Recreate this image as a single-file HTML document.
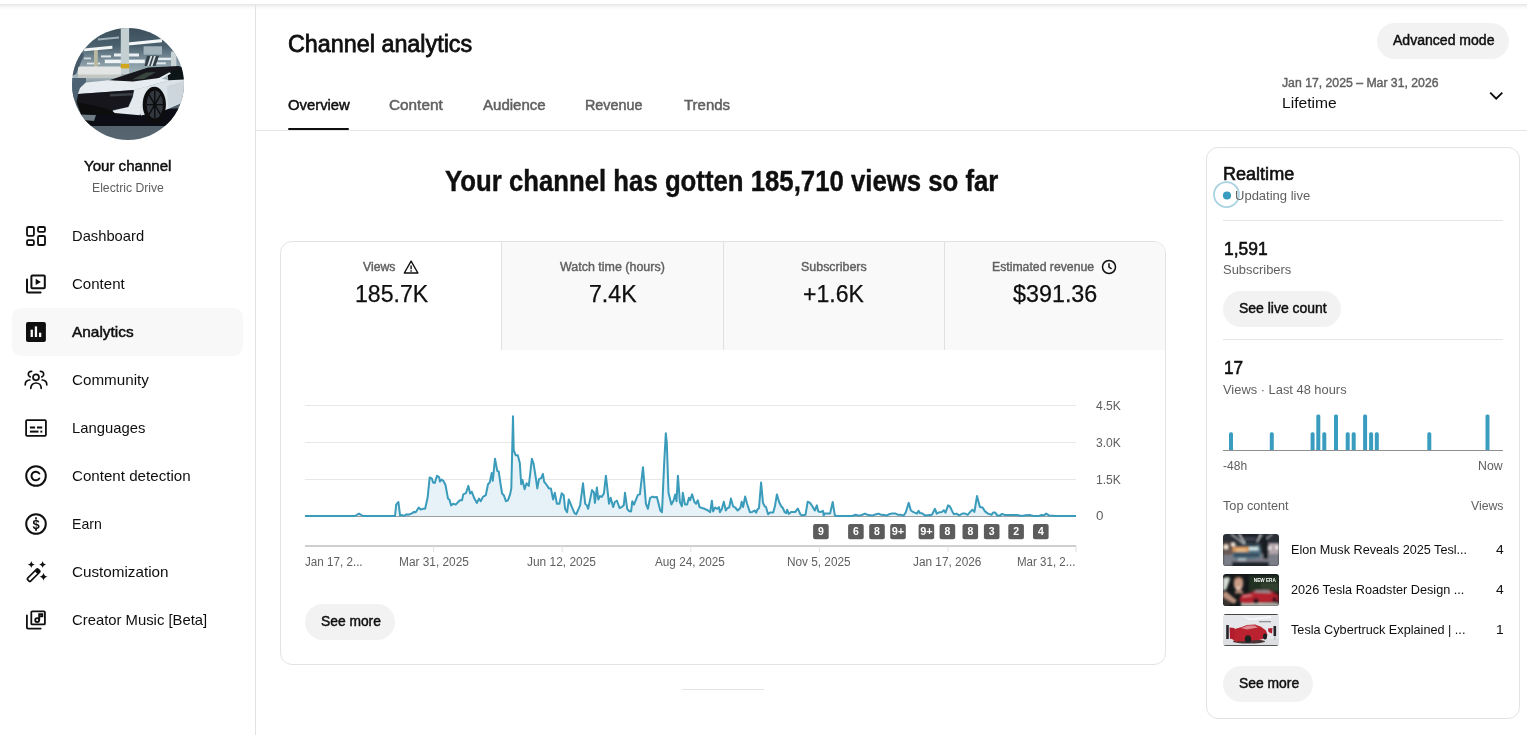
<!DOCTYPE html>
<html lang="en"><head><meta charset="utf-8"><title>Channel analytics - YouTube Studio</title>
<style>
html,body{margin:0;padding:0;background:#fff}
body{width:1527px;height:735px;overflow:hidden;position:relative;font-family:"Liberation Sans", sans-serif;color:#0f0f0f}
.abs{position:absolute}
.t{position:absolute;transform-origin:0 0;white-space:pre;line-height:1;margin:0;font-weight:400;text-decoration:none;display:block}
.b{font-weight:700}
.pill{position:absolute;background:#f2f2f2;border-radius:18px;height:36px}
.card{position:absolute;border:1px solid #e3e3e3;border-radius:12px;box-sizing:border-box;background:#fff}
.hr{position:absolute;height:1px;background:#e5e5e5}
.thumb{position:absolute;left:1223px;width:56px;height:32px;border-radius:3px;overflow:hidden}
</style></head><body>
<div class="abs" style="left:0;top:4px;width:1527px;height:6px;background:linear-gradient(rgba(0,0,0,.1),rgba(0,0,0,.03) 50%,rgba(0,0,0,0))"></div>
<aside>
<div class="abs" style="left:0;top:4px;width:255px;height:731px;border-right:1px solid #e2e2e2"></div>
<div class="abs" style="left:72px;top:28px;width:112px;height:112px;border-radius:50%;overflow:hidden"><svg width="112" height="112" viewBox="0 0 112 112" style="display:block"><defs><linearGradient id="abg" x1="0" y1="0" x2="0" y2="1"><stop offset="0" stop-color="#3c4f5b"/><stop offset=".16" stop-color="#4a606d"/><stop offset=".24" stop-color="#6a808c"/><stop offset=".34" stop-color="#8fa2ab"/><stop offset=".44" stop-color="#a9b7bd"/><stop offset=".5" stop-color="#7d8f9a"/><stop offset=".6" stop-color="#4c5c68"/><stop offset="1" stop-color="#56656f"/></linearGradient><filter id="abl" x="-5%" y="-5%" width="110%" height="110%"><feGaussianBlur stdDeviation=".6"/></filter></defs>
<rect width="112" height="112" fill="url(#abg)"/>
<g filter="url(#abl)">
<path d="M26 10.4 47 8.4 47 10.6 26 12.600z" fill="#9fb0b9"/>
<path d="M12.2 20.4 40.4 17.7 40.4 20.7 12.2 23.200z" fill="#f2f6f7"/>
<path d="M53.3 14.8 90 11 90 14.2 53.3 17.800z" fill="#f4f8f9"/>
<rect x="42" y="25.5" width="25" height="3" fill="#e9eff2"/><rect x="29" y="27.4" width="10" height="2" fill="#dfe7ea"/>
<rect x="32.8" y="31.6" width="40" height="3.6" fill="#eef3f5"/>
<rect x="86" y="29.7" width="13" height="2.4" fill="#e6edf0"/><rect x="83.8" y="34.3" width="10" height="2" fill="#e0e8eb"/>
<rect x="15" y="34.6" width="13" height="1.8" fill="#dfe7ea"/><rect x="12" y="29.5" width="7" height="1.8" fill="#cfd9dd"/>
<rect x="48.8" y="0" width="8.3" height="46" fill="#c4cfd2"/><rect x="48.8" y="35.8" width="8.3" height="4.6" fill="#d1a51c"/>
<rect x="71.6" y="18.3" width="18.4" height="8.4" fill="#a3b3bc"/><path d="M75 27.8 87 27.8 83.5 38 72.5 38z" fill="#323e47"/><path d="M78.5 28 80.3 28 77 38 75.2 38zM82 28 83.8 28 80.5 38 78.7 38z" fill="#dbe3e6"/>
<rect x="99" y="23.6" width="5.4" height="15" fill="#c9d2d5"/>
<path d="M0 26 10 24 12 27 4 46 0 48z" fill="#46596a"/>
<rect x="22" y="22" width="3.8" height="27" fill="#b9b9a0"/>
<rect x="6" y="38.5" width="43" height="11.5" rx="2" fill="#e2e5e3"/><rect x="6" y="46.5" width="43" height="3.5" fill="#c4c8c4"/>
<rect x="0" y="50" width="14" height="20" fill="#4d6273"/>
<path d="M4 86 112 80 112 98 10 98z" fill="#0d1013"/>
<path d="M8 86 24 87 22 93 11 92z" fill="#6f7c85"/>
<path d="M36.6 52.6 56 46 76.2 39.6 106.7 38.1 112 40 112 52 100.4 45 82 52.6 61 54.500z" fill="#12161a"/>
<path d="M60 51.5 74 44.5 84 44 72 51z" fill="#3a4540"/>
<path d="M95.5 44.9 110.2 40.8 112 51.4 100.4 57.1 96.3 52.200z" fill="#0f1215"/>
<path d="M82.3 52.6 97.5 44.2 99 45.5 86 52.800z" fill="#e6ecef"/>
<path d="M6.1 65.5 8 60 13.7 54.5 36.6 52.3 61 53.5 87.3 50 97.1 52.2 76.2 58.3 62.5 62.1 6.1 66.100z" fill="#e6ecf0"/>
<path d="M62.5 62.1 76.2 58.3 97.1 52.2 112 51.4 112 74 93.7 82 69 87.5 60 74z" fill="#dbe3e8"/>
<path d="M95 58 112 53 112 74 96 80z" fill="#cdd6dc"/>
<path d="M6.1 65.9 61.7 62.1 60.2 69 56.4 78.9 41.1 81.9 7.6 78.1 4.6 73.500z" fill="#14181c"/>
<path d="M38 66 60.5 65 60 67.5 38 68.500z" fill="#3a3f44"/>
<path d="M4.6 74 41.1 81.9 41 87 9 86.500z" fill="#0b0d0f"/>
<path d="M40.4 82.7 56.4 78.9 61 69 62.5 62.1 76.2 58.3 71.6 67.4 68.6 78.9 67.8 87.2 42.7 85z" fill="#e3e9ed"/>
<ellipse cx="82.3" cy="76.6" rx="11.6" ry="17.9" fill="#0c0e10"/><ellipse cx="82.8" cy="76.6" rx="8.2" ry="14" fill="#32373d"/>
<g stroke="#0c0e10" stroke-width="1.4"><path d="M82.8 62.600V90.600M74.6 76.600H91M77 66.6 88.6 86.600M88.6 66.6 77 86.6"/></g><ellipse cx="82.8" cy="76.6" rx="1.8" ry="3" fill="#0c0e10"/>
</g></svg>
</div>
<div class="t" style="left:83.8px;top:158px;font-size:15px;transform:scaleX(1.0042);color:#0f0f0f;-webkit-text-stroke:0.49px currentColor">Your channel</div><div class="t" style="left:91.6px;top:182px;font-size:12px;transform:scaleX(1.0172);color:#606060">Electric Drive</div>
<nav>
<div class="abs" style="left:12px;top:308px;width:231px;height:48px;border-radius:9px;background:#f8f8f8"></div>
<svg class="abs ic" style="left:24px;top:224px" width="24" height="24" viewBox="0 0 24 24"><g fill="none" stroke="#0f0f0f" stroke-width="1.8" stroke-linejoin="round"><rect x="3" y="3" width="6.9" height="8.8" rx="1.3"/><rect x="14" y="3" width="7" height="4.9" rx="1.3"/><rect x="3" y="16.1" width="6.9" height="4.9" rx="1.3"/><rect x="14" y="12" width="7" height="9" rx="1.3"/></g></svg><a class="t" style="left:72.0px;top:228px;font-size:15px;transform:scaleX(0.9824);color:#0f0f0f">Dashboard</a><svg class="abs ic" style="left:24px;top:272px" width="24" height="24" viewBox="0 0 24 24"><g fill="none" stroke="#0f0f0f" stroke-width="2" stroke-linejoin="round" stroke-linecap="round"><rect x="7.4" y="3.4" width="13.4" height="12.9" rx="1"/><path d="M3 7.400V19.500a1 1 0 0 0 1 1H16.6"/></g><path d="M11.7 6.8v6.3l5.2-3.15z" fill="#0f0f0f"/></svg><a class="t" style="left:72.0px;top:276px;font-size:15px;transform:scaleX(1.0029);color:#0f0f0f">Content</a><svg class="abs ic" style="left:24px;top:320px" width="24" height="24" viewBox="0 0 24 24"><rect x="2" y="2" width="19.9" height="19.9" rx="2" fill="#0f0f0f"/><rect x="6.6" y="9.7" width="2.3" height="7.3" fill="#f8f8f8"/><rect x="10.8" y="6.4" width="2.3" height="10.6" fill="#f8f8f8"/><rect x="15" y="12.7" width="2.3" height="4.3" fill="#f8f8f8"/></svg><a class="t" style="left:72.0px;top:324px;font-size:15px;transform:scaleX(1.0261);color:#0f0f0f;-webkit-text-stroke:0.49px currentColor">Analytics</a><svg class="abs ic" style="left:24px;top:368px" width="24" height="24" viewBox="0 0 24 24"><g fill="none" stroke="#0f0f0f" stroke-width="1.7" stroke-linecap="round"><circle cx="12" cy="9.3" r="3"/><path d="M6.8 20.3c0-3.2 2.3-5.3 5.2-5.3s5.2 2.1 5.2 5.3"/><path d="M7.6 3.3C5.6 3.1 4.3 4.5 4.3 6.2c0 1.3 .8 2.3 1.9 2.7"/><path d="M1.2 16.8c0-2.8 1.9-4.6 4.6-4.8"/><path d="M16.4 3.3c2-.2 3.3 1.2 3.3 2.9 0 1.3-.8 2.3-1.9 2.7"/><path d="M22.8 16.8c0-2.8-1.9-4.6-4.6-4.8"/></g></svg><a class="t" style="left:72.0px;top:372px;font-size:15px;transform:scaleX(1.0137);color:#0f0f0f">Community</a><svg class="abs ic" style="left:24px;top:416px" width="24" height="24" viewBox="0 0 24 24"><g fill="none" stroke="#0f0f0f" stroke-width="1.8" stroke-linejoin="round"><rect x="2.1" y="4.2" width="19.8" height="15.6" rx="1"/></g><g fill="#0f0f0f"><rect x="5.9" y="10.5" width="5.2" height="2"/><rect x="13" y="10.5" width="5.2" height="2"/><rect x="5.9" y="14.6" width="8.6" height="2"/><rect x="16.4" y="14.6" width="1.9" height="2"/></g></svg><a class="t" style="left:72.0px;top:420px;font-size:15px;transform:scaleX(0.9872);color:#0f0f0f">Languages</a><svg class="abs ic" style="left:24px;top:464px" width="24" height="24" viewBox="0 0 24 24"><g fill="none" stroke="#0f0f0f" stroke-width="2" stroke-linecap="round"><circle cx="12" cy="12" r="9.8"/><path d="M15.3 9.5A4.3 4.3 0 1 0 15.3 14.5"/></g></svg><a class="t" style="left:72.0px;top:468px;font-size:15px;transform:scaleX(1.0086);color:#0f0f0f">Content detection</a><svg class="abs ic" style="left:24px;top:512px" width="24" height="24" viewBox="0 0 24 24"><circle cx="12" cy="12" r="9.8" fill="none" stroke="#0f0f0f" stroke-width="2"/><text x="12" y="16.6" text-anchor="middle" font-family="Liberation Sans, sans-serif" font-weight="700" font-size="13" fill="#0f0f0f">$</text><path d="M12 5.300V7.400M12 16.600V18.7" stroke="#0f0f0f" stroke-width="1.7" fill="none"/></svg><a class="t" style="left:72.0px;top:516px;font-size:15px;transform:scaleX(0.9404);color:#0f0f0f">Earn</a><svg class="abs ic" style="left:24px;top:560px" width="24" height="24" viewBox="0 0 24 24"><g transform="rotate(-45 9.6 15.2)"><rect x="2.2" y="13.1" width="14.8" height="4.2" rx="1.1" fill="none" stroke="#0f0f0f" stroke-width="1.7"/><rect x="13.2" y="13.1" width="3.8" height="4.2" rx=".8" fill="#0f0f0f"/></g><g fill="#0f0f0f"><path d="M7.3 1q.5 3 3.5 3.5-3 .5-3.5 3.5-.5-3-3.5-3.5 3-.5 3.5-3.500z"/><path d="M18.6 1q.5 3 3.5 3.5-3 .5-3.5 3.5-.5-3-3.5-3.5 3-.5 3.5-3.500z"/><path d="M19.5 12.700q.6 3.4 4 4-3.4.6-4 4-.6-3.4-4-4 3.4-.6 4-4z"/></g></svg><a class="t" style="left:72.0px;top:564px;font-size:15px;transform:scaleX(1.0153);color:#0f0f0f">Customization</a><svg class="abs ic" style="left:24px;top:608px" width="24" height="24" viewBox="0 0 24 24"><g fill="none" stroke="#0f0f0f" stroke-width="1.8" stroke-linejoin="round" stroke-linecap="round"><rect x="7.3" y="3.3" width="13.6" height="13.1" rx="1"/><path d="M2.9 7.300V19.600a1 1 0 0 0 1 1H16.7"/></g><circle cx="13.2" cy="12.1" r="2" fill="none" stroke="#0f0f0f" stroke-width="1.9"/><path d="M15.2 12.100V6.300h3.100v2.100h-2.2" fill="none" stroke="#0f0f0f" stroke-width="1.9"/></svg><a class="t" style="left:72.0px;top:612px;font-size:15px;transform:scaleX(0.9889);color:#0f0f0f">Creator Music [Beta]</a>
</nav>
</aside>
<header>
<h1 class="t" style="left:288.2px;top:33px;font-size:23px;transform:scaleX(1.0145);color:#0f0f0f;-webkit-text-stroke:0.76px currentColor">Channel analytics</h1>
<a class="t" style="left:287.8px;top:97px;font-size:15px;transform:scaleX(0.9886);color:#0f0f0f;-webkit-text-stroke:0.49px currentColor">Overview</a><a class="t" style="left:389.3px;top:97px;font-size:15px;transform:scaleX(1.0219);color:#606060;-webkit-text-stroke:0.49px currentColor">Content</a><a class="t" style="left:482.7px;top:97px;font-size:15px;transform:scaleX(1.0022);color:#606060;-webkit-text-stroke:0.49px currentColor">Audience</a><a class="t" style="left:585.2px;top:97px;font-size:15px;transform:scaleX(0.9576);color:#606060;-webkit-text-stroke:0.49px currentColor">Revenue</a><a class="t" style="left:683.7px;top:97px;font-size:15px;transform:scaleX(0.9991);color:#606060;-webkit-text-stroke:0.49px currentColor">Trends</a>
<div class="abs" style="left:288px;top:128px;width:61px;height:2px;background:#0f0f0f;border-radius:1px"></div>
<div class="hr" style="left:256px;top:130px;width:1271px"></div>
<div class="pill" style="left:1377px;top:23px;width:132px"></div><span class="t" style="left:1392.7px;top:33px;font-size:14px;transform:scaleX(1.0031);color:#0f0f0f;-webkit-text-stroke:0.46px currentColor">Advanced mode</span>
<div class="t" style="left:1281.9px;top:77px;font-size:12px;transform:scaleX(1.0199);color:#606060;-webkit-text-stroke:0.40px currentColor">Jan 17, 2025 – Mar 31, 2026</div><div class="t" style="left:1281.9px;top:95px;font-size:15px;transform:scaleX(1.0413);color:#0f0f0f">Lifetime</div>
<svg class="abs" style="left:1486px;top:86px" width="20" height="20" viewBox="0 0 20 20"><path d="M4.2 6.6 10.2 12.6 16.3 6.6" fill="none" stroke="#0f0f0f" stroke-width="1.9" stroke-linejoin="miter"/></svg>
</header>
<main>
<h2 class="t b" style="left:445.0px;top:167px;font-size:28.6px;transform:scaleX(0.9006);color:#0f0f0f;-webkit-text-stroke:0.4px currentColor">Your channel has gotten 185,710 views so far</h2>
<section class="card" style="left:280px;top:241px;width:886px;height:424px;overflow:hidden">
<div class="abs" style="left:221px;top:0;width:664px;height:108px;background:#f9f9f9"></div>
<div class="abs" style="left:220px;top:0;width:1px;height:108px;background:#e0e0e0"></div>
<div class="abs" style="left:442px;top:0;width:1px;height:108px;background:#e0e0e0"></div>
<div class="abs" style="left:663px;top:0;width:1px;height:108px;background:#e0e0e0"></div>
</section>
<div class="t" style="left:363.4px;top:261px;font-size:12px;transform:scaleX(1.0221);color:#606060;-webkit-text-stroke:0.40px currentColor">Views</div><div class="t" style="left:355.2px;top:283px;font-size:23.5px;transform:scaleX(0.9828);color:#0f0f0f;-webkit-text-stroke:0.25px currentColor">185.7K</div><div class="t" style="left:560.1px;top:261px;font-size:12px;transform:scaleX(1.0384);color:#606060;-webkit-text-stroke:0.40px currentColor">Watch time (hours)</div><div class="t" style="left:588.7px;top:283px;font-size:23.5px;transform:scaleX(0.9846);color:#0f0f0f;-webkit-text-stroke:0.25px currentColor">7.4K</div><div class="t" style="left:800.8px;top:261px;font-size:12px;transform:scaleX(1.0369);color:#606060;-webkit-text-stroke:0.40px currentColor">Subscribers</div><div class="t" style="left:803.2px;top:283px;font-size:23.5px;transform:scaleX(0.9810);color:#0f0f0f;-webkit-text-stroke:0.25px currentColor">+1.6K</div><div class="t" style="left:992.1px;top:261px;font-size:12px;transform:scaleX(1.0204);color:#606060;-webkit-text-stroke:0.40px currentColor">Estimated revenue</div><div class="t" style="left:1013.2px;top:283px;font-size:23.5px;transform:scaleX(0.9923);color:#0f0f0f;-webkit-text-stroke:0.25px currentColor">$391.36</div>
<svg class="abs" style="left:403px;top:259px" width="16" height="16" viewBox="0 0 16 16"><path d="M8.1 2.2 14.9 14H1.300z" fill="none" stroke="#0f0f0f" stroke-width="1.4" stroke-linejoin="round"/><path d="M8.1 6.500v3.700M8.1 11.300v1.4" stroke="#0f0f0f" stroke-width="1.4" fill="none"/></svg>
<svg class="abs" style="left:1101px;top:259px" width="16" height="16" viewBox="0 0 16 16"><circle cx="8" cy="8" r="6.5" fill="none" stroke="#0f0f0f" stroke-width="1.5"/><path d="M8 4.3V8.2l2.6 1.6" fill="none" stroke="#0f0f0f" stroke-width="1.5"/></svg>
<svg class="abs" style="left:280px;top:390px" width="830" height="180" viewBox="0 0 830 180">
<line x1="25" x2="796" y1="15.5" y2="15.5" stroke="#e8e8e8" stroke-width="1"/><line x1="25" x2="796" y1="52.5" y2="52.5" stroke="#e8e8e8" stroke-width="1"/><line x1="25" x2="796" y1="89.5" y2="89.5" stroke="#e8e8e8" stroke-width="1"/>
<line x1="25" x2="796" y1="126.5" y2="126.5" stroke="#9a9fa2" stroke-width="1"/>
<polygon points="25,126 25.0,126.0 75.0,126.0 79.0,123.6 83.0,126.0 100.0,126.0 115.0,126.0 116.2,114.6 118.4,112.0 120.1,125.6 122.1,125.0 123.8,126.0 126.4,124.3 128.1,124.8 131.5,123.6 134.0,121.9 135.7,122.2 138.8,117.5 140.8,119.7 142.9,118.8 145.1,118.8 147.6,107.8 149.7,87.4 151.9,88.6 153.1,92.5 154.8,93.0 157.0,85.7 159.2,87.4 159.9,91.6 161.6,89.6 163.3,90.8 165.5,95.0 168.0,108.6 169.4,109.5 171.1,115.4 173.1,113.7 175.7,114.6 178.2,112.0 179.9,110.3 182.0,110.3 183.3,104.4 185.9,103.2 188.4,95.9 190.1,103.5 191.8,101.8 194.4,108.6 196.9,112.9 199.0,108.6 200.7,111.2 202.9,106.9 205.8,105.2 208.0,94.2 209.7,92.5 211.7,83.1 212.8,90.8 215.0,68.7 217.3,81.1 218.7,81.4 220.7,95.0 222.1,103.5 223.8,105.2 225.9,111.2 227.9,110.3 230.1,104.4 231.3,98.4 233.0,26.2 233.7,60.2 235.7,65.3 237.8,65.3 239.8,72.9 241.2,94.2 242.5,89.9 244.6,99.3 246.6,93.3 248.8,95.9 251.9,68.7 253.6,73.8 255.6,86.5 257.3,98.4 259.0,89.1 261.2,88.2 262.9,84.0 264.1,91.6 266.7,95.0 268.9,98.4 270.9,98.4 273.1,109.5 274.8,102.7 276.9,113.7 279.4,113.7 281.7,103.2 283.7,105.2 285.1,118.8 287.1,122.2 288.8,109.5 291.9,117.1 294.5,123.1 296.2,124.3 300.1,115.4 303.0,93.3 305.2,113.7 306.9,115.4 308.1,118.8 310.3,108.6 312.0,100.1 314.0,102.7 314.9,112.9 316.9,97.6 318.3,109.5 320.0,106.1 321.7,106.9 323.9,103.5 325.9,85.7 329.0,113.7 330.7,107.8 333.1,117.1 334.8,112.0 337.0,110.7 339.5,118.0 342.1,116.8 343.8,115.1 345.0,102.7 347.2,118.8 348.9,120.9 351.1,121.4 352.3,111.2 354.0,114.6 355.7,110.3 357.9,104.9 359.9,104.4 363.0,77.2 365.9,113.7 367.9,118.8 370.1,107.8 372.7,106.6 374.4,107.3 376.9,106.9 380.3,120.5 382.0,122.2 384.1,74.6 385.8,43.2 386.8,52.5 388.5,102.7 391.4,114.6 393.6,110.3 395.3,104.4 396.5,111.2 397.9,85.7 399.9,112.0 401.9,116.3 402.8,102.7 405.0,114.6 407.2,114.6 408.9,107.8 410.1,110.3 412.1,104.4 414.4,112.0 416.1,113.7 417.8,110.3 419.5,117.1 422.0,118.0 424.6,118.8 428.0,120.5 430.2,122.2 431.9,110.7 433.1,121.4 435.1,117.5 437.3,118.8 439.0,117.1 439.9,122.2 441.9,118.8 443.8,111.7 445.8,120.5 447.5,118.0 449.2,117.5 450.9,108.6 453.1,116.3 455.2,117.5 457.7,120.5 460.3,118.0 461.7,111.7 463.1,117.1 465.1,106.6 467.1,113.7 469.9,122.2 472.2,121.9 474.5,120.5 476.2,122.6 477.3,119.7 479.0,118.0 481.1,92.5 483.0,112.9 484.7,116.3 485.9,116.8 488.1,124.3 489.8,122.6 493.2,122.6 494.9,116.3 496.9,104.4 499.1,112.0 501.2,116.3 502.9,118.0 504.6,122.2 506.3,123.1 507.1,119.7 508.8,123.9 511.0,121.9 515.3,121.9 517.8,118.5 520.4,124.3 522.1,125.3 525.5,124.8 527.7,111.7 530.1,112.9 532.3,116.3 534.8,120.5 536.9,115.4 538.2,121.4 540.8,121.9 543.0,120.9 543.7,125.6 544.5,123.6 550.1,123.6 552.7,112.0 554.9,125.6 556.9,126.0 572.2,126.0 575.6,124.8 579.0,125.6 581.6,125.0 585.0,123.6 587.6,124.8 591.8,125.6 596.1,124.3 598.6,123.6 601.2,124.8 604.6,125.0 606.6,125.6 608.8,124.3 612.2,123.6 615.6,123.6 618.2,124.8 620.7,124.8 623.6,125.6 625.8,122.2 628.7,112.9 630.9,120.5 633.5,122.2 636.9,123.6 638.6,120.9 640.0,123.1 642.6,123.6 644.8,125.6 647.7,125.3 651.9,124.8 655.0,118.8 656.7,123.6 659.6,122.2 662.1,121.9 663.8,120.2 665.5,122.6 668.1,115.4 669.8,116.3 672.3,121.4 674.0,124.3 676.6,123.6 679.1,125.3 682.5,123.6 685.1,123.6 687.6,124.8 690.2,121.9 692.4,119.7 694.4,121.9 697.0,106.1 699.9,117.1 702.6,117.5 705.0,121.4 708.0,123.6 711.4,124.8 713.1,122.6 715.2,122.6 717.4,125.6 719.9,125.6 722.0,123.9 725.0,125.0 736.9,125.0 742.0,126.0 745.4,125.3 749.7,125.0 753.1,126.0 759.0,126.0 761.6,125.0 764.1,125.3 766.2,123.6 769.3,125.6 776.1,126.0 796.0,126.0 796,126" fill="#e6f2f7"/>
<polyline points="25.0,126.0 75.0,126.0 79.0,123.6 83.0,126.0 100.0,126.0 115.0,126.0 116.2,114.6 118.4,112.0 120.1,125.6 122.1,125.0 123.8,126.0 126.4,124.3 128.1,124.8 131.5,123.6 134.0,121.9 135.7,122.2 138.8,117.5 140.8,119.7 142.9,118.8 145.1,118.8 147.6,107.8 149.7,87.4 151.9,88.6 153.1,92.5 154.8,93.0 157.0,85.7 159.2,87.4 159.9,91.6 161.6,89.6 163.3,90.8 165.5,95.0 168.0,108.6 169.4,109.5 171.1,115.4 173.1,113.7 175.7,114.6 178.2,112.0 179.9,110.3 182.0,110.3 183.3,104.4 185.9,103.2 188.4,95.9 190.1,103.5 191.8,101.8 194.4,108.6 196.9,112.9 199.0,108.6 200.7,111.2 202.9,106.9 205.8,105.2 208.0,94.2 209.7,92.5 211.7,83.1 212.8,90.8 215.0,68.7 217.3,81.1 218.7,81.4 220.7,95.0 222.1,103.5 223.8,105.2 225.9,111.2 227.9,110.3 230.1,104.4 231.3,98.4 233.0,26.2 233.7,60.2 235.7,65.3 237.8,65.3 239.8,72.9 241.2,94.2 242.5,89.9 244.6,99.3 246.6,93.3 248.8,95.9 251.9,68.7 253.6,73.8 255.6,86.5 257.3,98.4 259.0,89.1 261.2,88.2 262.9,84.0 264.1,91.6 266.7,95.0 268.9,98.4 270.9,98.4 273.1,109.5 274.8,102.7 276.9,113.7 279.4,113.7 281.7,103.2 283.7,105.2 285.1,118.8 287.1,122.2 288.8,109.5 291.9,117.1 294.5,123.1 296.2,124.3 300.1,115.4 303.0,93.3 305.2,113.7 306.9,115.4 308.1,118.8 310.3,108.6 312.0,100.1 314.0,102.7 314.9,112.9 316.9,97.6 318.3,109.5 320.0,106.1 321.7,106.9 323.9,103.5 325.9,85.7 329.0,113.7 330.7,107.8 333.1,117.1 334.8,112.0 337.0,110.7 339.5,118.0 342.1,116.8 343.8,115.1 345.0,102.7 347.2,118.8 348.9,120.9 351.1,121.4 352.3,111.2 354.0,114.6 355.7,110.3 357.9,104.9 359.9,104.4 363.0,77.2 365.9,113.7 367.9,118.8 370.1,107.8 372.7,106.6 374.4,107.3 376.9,106.9 380.3,120.5 382.0,122.2 384.1,74.6 385.8,43.2 386.8,52.5 388.5,102.7 391.4,114.6 393.6,110.3 395.3,104.4 396.5,111.2 397.9,85.7 399.9,112.0 401.9,116.3 402.8,102.7 405.0,114.6 407.2,114.6 408.9,107.8 410.1,110.3 412.1,104.4 414.4,112.0 416.1,113.7 417.8,110.3 419.5,117.1 422.0,118.0 424.6,118.8 428.0,120.5 430.2,122.2 431.9,110.7 433.1,121.4 435.1,117.5 437.3,118.8 439.0,117.1 439.9,122.2 441.9,118.8 443.8,111.7 445.8,120.5 447.5,118.0 449.2,117.5 450.9,108.6 453.1,116.3 455.2,117.5 457.7,120.5 460.3,118.0 461.7,111.7 463.1,117.1 465.1,106.6 467.1,113.7 469.9,122.2 472.2,121.9 474.5,120.5 476.2,122.6 477.3,119.7 479.0,118.0 481.1,92.5 483.0,112.9 484.7,116.3 485.9,116.8 488.1,124.3 489.8,122.6 493.2,122.6 494.9,116.3 496.9,104.4 499.1,112.0 501.2,116.3 502.9,118.0 504.6,122.2 506.3,123.1 507.1,119.7 508.8,123.9 511.0,121.9 515.3,121.9 517.8,118.5 520.4,124.3 522.1,125.3 525.5,124.8 527.7,111.7 530.1,112.9 532.3,116.3 534.8,120.5 536.9,115.4 538.2,121.4 540.8,121.9 543.0,120.9 543.7,125.6 544.5,123.6 550.1,123.6 552.7,112.0 554.9,125.6 556.9,126.0 572.2,126.0 575.6,124.8 579.0,125.6 581.6,125.0 585.0,123.6 587.6,124.8 591.8,125.6 596.1,124.3 598.6,123.6 601.2,124.8 604.6,125.0 606.6,125.6 608.8,124.3 612.2,123.6 615.6,123.6 618.2,124.8 620.7,124.8 623.6,125.6 625.8,122.2 628.7,112.9 630.9,120.5 633.5,122.2 636.9,123.6 638.6,120.9 640.0,123.1 642.6,123.6 644.8,125.6 647.7,125.3 651.9,124.8 655.0,118.8 656.7,123.6 659.6,122.2 662.1,121.9 663.8,120.2 665.5,122.6 668.1,115.4 669.8,116.3 672.3,121.4 674.0,124.3 676.6,123.6 679.1,125.3 682.5,123.6 685.1,123.6 687.6,124.8 690.2,121.9 692.4,119.7 694.4,121.9 697.0,106.1 699.9,117.1 702.6,117.5 705.0,121.4 708.0,123.6 711.4,124.8 713.1,122.6 715.2,122.6 717.4,125.6 719.9,125.6 722.0,123.9 725.0,125.0 736.9,125.0 742.0,126.0 745.4,125.3 749.7,125.0 753.1,126.0 759.0,126.0 761.6,125.0 764.1,125.3 766.2,123.6 769.3,125.6 776.1,126.0 796.0,126.0" fill="none" stroke="#3a9bbb" stroke-width="2" stroke-linejoin="round"/>
<line x1="25" x2="796" y1="156" y2="156" stroke="#cfcfcf" stroke-width="2"/>
<line x1="153.6" x2="153.6" y1="156" y2="162" stroke="#e0e0e0" stroke-width="1"/><line x1="282.2" x2="282.2" y1="156" y2="162" stroke="#e0e0e0" stroke-width="1"/><line x1="410.8" x2="410.8" y1="156" y2="162" stroke="#e0e0e0" stroke-width="1"/><line x1="539.4" x2="539.4" y1="156" y2="162" stroke="#e0e0e0" stroke-width="1"/><line x1="668.0" x2="668.0" y1="156" y2="162" stroke="#e0e0e0" stroke-width="1"/><line x1="796.0" x2="796.0" y1="156" y2="162" stroke="#e0e0e0" stroke-width="1"/>
<rect x="533.1" y="134" width="15.6" height="15.2" rx="2" fill="#5c5c5c"/><text x="540.9" y="145.4" text-anchor="middle" font-family="Liberation Sans, sans-serif" font-weight="700" font-size="10.5" fill="#fff">9</text><rect x="568.1" y="134" width="15.6" height="15.2" rx="2" fill="#5c5c5c"/><text x="575.9" y="145.4" text-anchor="middle" font-family="Liberation Sans, sans-serif" font-weight="700" font-size="10.5" fill="#fff">6</text><rect x="589.2" y="134" width="15.6" height="15.2" rx="2" fill="#5c5c5c"/><text x="597.0" y="145.4" text-anchor="middle" font-family="Liberation Sans, sans-serif" font-weight="700" font-size="10.5" fill="#fff">8</text><rect x="610.2" y="134" width="15.6" height="15.2" rx="2" fill="#5c5c5c"/><text x="618.0" y="145.4" text-anchor="middle" font-family="Liberation Sans, sans-serif" font-weight="700" font-size="10.5" fill="#fff" textLength="12.5" lengthAdjust="spacingAndGlyphs">9+</text><rect x="638.6" y="134" width="15.6" height="15.2" rx="2" fill="#5c5c5c"/><text x="646.4" y="145.4" text-anchor="middle" font-family="Liberation Sans, sans-serif" font-weight="700" font-size="10.5" fill="#fff" textLength="12.5" lengthAdjust="spacingAndGlyphs">9+</text><rect x="659.6" y="134" width="15.6" height="15.2" rx="2" fill="#5c5c5c"/><text x="667.4" y="145.4" text-anchor="middle" font-family="Liberation Sans, sans-serif" font-weight="700" font-size="10.5" fill="#fff">8</text><rect x="682.5" y="134" width="15.6" height="15.2" rx="2" fill="#5c5c5c"/><text x="690.3" y="145.4" text-anchor="middle" font-family="Liberation Sans, sans-serif" font-weight="700" font-size="10.5" fill="#fff">8</text><rect x="703.9" y="134" width="15.6" height="15.2" rx="2" fill="#5c5c5c"/><text x="711.7" y="145.4" text-anchor="middle" font-family="Liberation Sans, sans-serif" font-weight="700" font-size="10.5" fill="#fff">3</text><rect x="728.3" y="134" width="15.6" height="15.2" rx="2" fill="#5c5c5c"/><text x="736.1" y="145.4" text-anchor="middle" font-family="Liberation Sans, sans-serif" font-weight="700" font-size="10.5" fill="#fff">2</text><rect x="753.0" y="134" width="15.6" height="15.2" rx="2" fill="#5c5c5c"/><text x="760.8" y="145.4" text-anchor="middle" font-family="Liberation Sans, sans-serif" font-weight="700" font-size="10.5" fill="#fff">4</text>
</svg>
<div class="t" style="left:304.8px;top:556px;font-size:12px;transform:scaleX(0.9701);color:#606060">Jan 17, 2...</div><div class="t" style="left:398.5px;top:556px;font-size:12px;transform:scaleX(0.9884);color:#606060">Mar 31, 2025</div><div class="t" style="left:527.1px;top:556px;font-size:12px;transform:scaleX(0.9941);color:#606060">Jun 12, 2025</div><div class="t" style="left:655.4px;top:556px;font-size:12px;transform:scaleX(0.9789);color:#606060">Aug 24, 2025</div><div class="t" style="left:787.3px;top:556px;font-size:12px;transform:scaleX(0.9827);color:#606060">Nov 5, 2025</div><div class="t" style="left:913.2px;top:556px;font-size:12px;transform:scaleX(0.9855);color:#606060">Jan 17, 2026</div><div class="t" style="left:1017.2px;top:556px;font-size:12px;transform:scaleX(0.9621);color:#606060">Mar 31, 2...</div><div class="t" style="left:1095.5px;top:400px;font-size:12px;transform:scaleX(1.0086);color:#606060">4.5K</div><div class="t" style="left:1095.5px;top:437px;font-size:12px;transform:scaleX(1.0086);color:#606060">3.0K</div><div class="t" style="left:1095.5px;top:474px;font-size:12px;transform:scaleX(1.0086);color:#606060">1.5K</div><div class="t" style="left:1095.5px;top:510px;font-size:12px;transform:scaleX(1.1215);color:#606060">0</div>
<div class="pill" style="left:305px;top:604px;width:90px"></div><span class="t" style="left:320.7px;top:614px;font-size:14px;transform:scaleX(0.9868);color:#0f0f0f;-webkit-text-stroke:0.46px currentColor">See more</span>
<div class="hr" style="left:682px;top:689px;width:82px"></div>
</main>
<section>
<div class="card" style="left:1206px;top:147px;width:314px;height:572px"></div>
<h3 class="t" style="left:1223.1px;top:165px;font-size:18px;transform:scaleX(1.0024);color:#0f0f0f;-webkit-text-stroke:0.59px currentColor">Realtime</h3>
<svg class="abs" style="left:1211px;top:179px" width="32" height="32" viewBox="0 0 32 32"><circle cx="15.5" cy="15.6" r="12.5" fill="none" stroke="#a9d3e2" stroke-width="1.8"/><circle cx="16" cy="16.5" r="4.1" fill="#3a9dc0"/></svg>
<div class="t" style="left:1234.7px;top:189px;font-size:13px;transform:scaleX(1.0006);color:#606060">Updating live</div>
<div class="hr" style="left:1223px;top:220px;width:280px"></div>
<div class="t" style="left:1223.5px;top:240px;font-size:18px;transform:scaleX(0.9679);color:#0f0f0f;-webkit-text-stroke:0.59px currentColor">1,591</div><div class="t" style="left:1223.1px;top:264px;font-size:12.5px;transform:scaleX(1.0348);color:#606060">Subscribers</div>
<div class="pill" style="left:1223px;top:291px;width:118px"></div><span class="t" style="left:1238.9px;top:301px;font-size:14px;transform:scaleX(0.9971);color:#0f0f0f;-webkit-text-stroke:0.46px currentColor">See live count</span>
<div class="hr" style="left:1223px;top:339px;width:280px"></div>
<div class="t" style="left:1224.0px;top:359px;font-size:18px;transform:scaleX(0.9535);color:#0f0f0f;-webkit-text-stroke:0.59px currentColor">17</div><div class="t" style="left:1223.2px;top:383px;font-size:13px;transform:scaleX(0.9905);color:#606060">Views · Last 48 hours</div>
<svg class="abs" style="left:1223px;top:410px" width="281" height="44" viewBox="0 0 281 44"><rect x="6.0" y="22.3" width="4" height="25.7" rx="1.6" fill="#3a9dc0"/><rect x="46.8" y="22.3" width="4" height="25.7" rx="1.6" fill="#3a9dc0"/><rect x="87.6" y="22.3" width="4" height="25.7" rx="1.6" fill="#3a9dc0"/><rect x="93.3" y="4.4" width="4" height="43.6" rx="1.6" fill="#3a9dc0"/><rect x="99.3" y="22.3" width="4" height="25.7" rx="1.6" fill="#3a9dc0"/><rect x="111.0" y="4.4" width="4" height="43.6" rx="1.6" fill="#3a9dc0"/><rect x="122.7" y="22.3" width="4" height="25.7" rx="1.6" fill="#3a9dc0"/><rect x="128.7" y="22.3" width="4" height="25.7" rx="1.6" fill="#3a9dc0"/><rect x="140.1" y="4.4" width="4" height="43.6" rx="1.6" fill="#3a9dc0"/><rect x="146.1" y="22.3" width="4" height="25.7" rx="1.6" fill="#3a9dc0"/><rect x="151.8" y="22.3" width="4" height="25.7" rx="1.6" fill="#3a9dc0"/><rect x="204.3" y="22.3" width="4" height="25.7" rx="1.6" fill="#3a9dc0"/><rect x="262.5" y="4.4" width="4" height="43.6" rx="1.6" fill="#3a9dc0"/><rect x="0" y="40" width="280" height="4" fill="#fff"/><rect x="0" y="40" width="280" height="1" fill="#8f8f8f"/></svg>
<div class="t" style="left:1222.5px;top:460px;font-size:12px;transform:scaleX(1.0029);color:#606060">-48h</div><div class="t" style="left:1478.3px;top:460px;font-size:12px;transform:scaleX(1.0243);color:#606060">Now</div><div class="t" style="left:1222.6px;top:500px;font-size:12.5px;transform:scaleX(1.0148);color:#606060">Top content</div><div class="t" style="left:1470.7px;top:500px;font-size:12.5px;transform:scaleX(0.9811);color:#606060">Views</div>
<div class="thumb" style="top:534px"><svg width="56" height="32" viewBox="0 0 56 32" style="display:block"><defs><filter id="tb1" x="-5%" y="-5%" width="110%" height="110%"><feGaussianBlur stdDeviation=".8"/></filter></defs><rect width="56" height="32" fill="#2a2e35"/><g filter="url(#tb1)"><rect x="0" y="8" width="12" height="12" fill="#5a4a42"/><rect x="0" y="19.5" width="56" height="12.5" fill="#7b7e87"/><rect x="17" y="0" width="21" height="10" fill="#1b1f25"/><rect x="21" y="3" width="12" height="4" fill="#3a4049"/><path d="M7 0 9 0 22 10 20.5 10zM15 0 16.5 0 22.5 9 21.5 9.500zM39 0 37.5 0 33.5 8 34.5 8zM50 0 48.5 0 42 6 43 6z" fill="#e8ecef"/><circle cx="2.8" cy="13" r="2.6" fill="#f6e6d4"/><circle cx="10.3" cy="10.5" r="2.2" fill="#f6e8da"/><rect x="45.5" y="9" width="10.5" height="11" fill="#b3a4aa"/><circle cx="46.5" cy="14" r="2" fill="#f3eeee"/><circle cx="54" cy="13.5" r="2" fill="#f3eeee"/><rect x="0" y="15" width="9" height="6" fill="#6b5a55"/><path d="M9.5 22 12 11.5 24 9.5 35.5 10 38 16 37.5 23.5 30 25 12 25z" fill="#4f6f81"/><path d="M14 10.5 33 10.5 35 12.8 12.5 12.800z" fill="#26363f"/><rect x="9.5" y="12.8" width="16.5" height="5" fill="#d9985a"/><rect x="13" y="15" width="10" height="2.6" fill="#ecbf8a"/><rect x="26" y="13" width="9.5" height="3.3" fill="#cfe5e8"/><rect x="11" y="19.5" width="25" height="3" fill="#33485a"/><path d="M38.5 3 43.5 2 45.5 10 45 25 40.5 25 39 14z" fill="#161b23"/><rect x="9" y="27.8" width="37" height="4.2" fill="#1c242c"/><rect x="15" y="24.5" width="8" height="2" fill="#bfc8ce"/></g></svg>
</div>
<div class="thumb" style="top:574px">
<svg width="56" height="32" viewBox="0 0 56 32" style="display:block"><defs><filter id="tb2" x="-5%" y="-5%" width="110%" height="110%"><feGaussianBlur stdDeviation=".8"/></filter></defs><rect width="56" height="32" fill="#14181a"/><g filter="url(#tb2)"><rect x="26" y="2" width="30" height="16" fill="#243224"/><rect x="38" y="9" width="18" height="8" fill="#33402f"/><path d="M0 4 5.5 3 7 5 3.5 15 0 17z" fill="#d6dcd4"/><ellipse cx="15.5" cy="5.5" rx="5.2" ry="3.6" fill="#4a3528"/><ellipse cx="15.5" cy="10" rx="4.7" ry="6.2" fill="#c99c88"/><rect x="12.8" y="13.3" width="5" height="1.4" fill="#f0e2d8"/><path d="M13 16 19 16 20.5 19.5 11.5 19.500z" fill="#b08672"/><path d="M0 18.5 3 17.3 14 26.5 11 30 0 23.500z" fill="#bb927e"/><path d="M0 25 8 29.5 6 32 0 32z" fill="#3a3430"/><rect x="18" y="29.2" width="38" height="2.8" fill="#c6c6be"/><path d="M16.5 24 19 20.5 28 19 33 16 46 16 52 19.5 55.5 21 55.5 27 52 28.5 21 29.5 17 28z" fill="#b3222e"/><path d="M30 18.5 33.5 16.2 45 16.2 49 19z" fill="#8f9399"/><path d="M19 21.5 27 20 30 22 20 23.500z" fill="#dd7078"/><ellipse cx="33" cy="27" rx="2.6" ry="2.8" fill="#19191b"/><ellipse cx="51.5" cy="25.5" rx="2" ry="2.6" fill="#19191b"/></g><text x="30.8" y="8" font-family="Liberation Sans, sans-serif" font-weight="700" font-size="5.4" fill="#fff" textLength="22" lengthAdjust="spacingAndGlyphs">NEW ERA</text></svg>
</div>
<div class="thumb" style="top:614px">
<svg width="56" height="32" viewBox="0 0 56 32" style="display:block"><defs><filter id="tb3" x="-5%" y="-5%" width="110%" height="110%"><feGaussianBlur stdDeviation=".7"/></filter></defs><rect width="56" height="32" fill="#e5e7eb"/><rect x="1" y="0" width="54" height="1" fill="#444"/><rect x="1" y="31" width="54" height="1" fill="#555"/><g filter="url(#tb3)"><rect x="0" y="25" width="56" height="6" fill="#dcdee2"/><path d="M20 2 28 4.5 40 3 48 2 48 4 36 5.5 26 6z" fill="#f7f8f9"/><rect x="36" y="7" width="12" height="1.3" fill="#8e9096"/><ellipse cx="26" cy="27.5" rx="16" ry="2" fill="#4a3436"/><path d="M8.5 20 10 15.5 18 13.3 24 11 32 10.5 38 12.7 43 16.5 44.5 21 43 24 36 26 12.5 27.8 9 25z" fill="#b9232f"/><path d="M18 14 25 11.5 31.5 11.4 35 13.6 24 15.500z" fill="#de8a92"/><path d="M6.5 13.5 11.5 14 12 24.5 7 25z" fill="#b21f2d"/><path d="M45 14.5 49.5 14 49 19.5 45.5 18z" fill="#b21f2d"/><rect x="3.2" y="11" width="2.6" height="14" fill="#25252c"/><rect x="50.5" y="12" width="2.6" height="10" fill="#25252c"/><rect x="51" y="22" width="1.6" height="4" fill="#c2cbc7"/><ellipse cx="25" cy="25" rx="3.2" ry="3.8" fill="#1c2022"/><ellipse cx="42" cy="22.5" rx="2" ry="3" fill="#1c2022"/></g></svg>
</div>
<div class="t" style="left:1290.7px;top:543px;font-size:13px;transform:scaleX(0.9722);color:#0f0f0f">Elon Musk Reveals 2025 Tesl...</div><div class="t" style="left:1495.5px;top:543px;font-size:13px;transform:scaleX(1.0644);color:#0f0f0f">4</div><div class="t" style="left:1290.7px;top:583px;font-size:13px;transform:scaleX(0.9767);color:#0f0f0f">2026 Tesla Roadster Design ...</div><div class="t" style="left:1495.5px;top:583px;font-size:13px;transform:scaleX(1.0644);color:#0f0f0f">4</div><div class="t" style="left:1290.7px;top:623px;font-size:13px;transform:scaleX(0.9746);color:#0f0f0f">Tesla Cybertruck Explained | ...</div><div class="t" style="left:1495.5px;top:623px;font-size:13px;transform:scaleX(1.0644);color:#0f0f0f">1</div>
<div class="pill" style="left:1223px;top:666px;width:90px"></div><span class="t" style="left:1238.6px;top:676px;font-size:14px;transform:scaleX(0.9901);color:#0f0f0f;-webkit-text-stroke:0.46px currentColor">See more</span>
</section>
</body></html>
